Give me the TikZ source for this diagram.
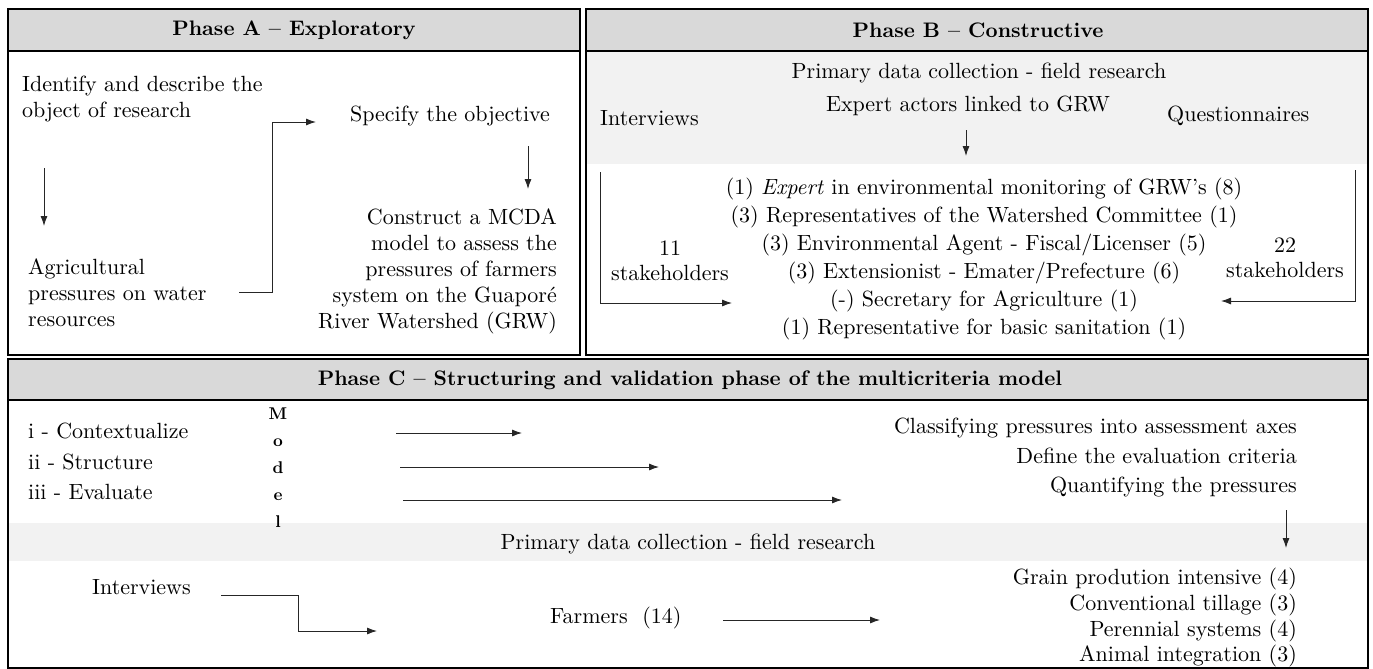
\documentclass[tikz,border=0pt]{standalone}
\usepackage{fontspec}
\setmainfont{lmroman10-regular.otf}[BoldFont=lmroman10-bold.otf, ItalicFont=lmroman10-italic.otf, BoldItalicFont=lmroman10-bolditalic.otf]
\usetikzlibrary{arrows.meta}
\definecolor{headgray}{HTML}{D9D9D9}
\definecolor{bandgray}{HTML}{F2F2F2}
\tikzset{
  frame/.style={draw=black, line width=1.6pt},
  headband/.style={fill=headgray, draw=black, line width=1.6pt},
  band/.style={fill=bandgray, draw=none},
  txt/.style={inner sep=0pt, font=\fontsize{22}{26}\selectfont},
  headtxt/.style={inner sep=0pt, font=\fontsize{21}{24}\selectfont\bfseries},
  arr/.style={draw=black!85, line width=0.9pt, -{Latex[length=10pt,width=7pt]}},
}
\begin{document}
\begin{tikzpicture}[x=1pt,y=-1pt]
\useasboundingbox (0,0) rectangle (1373,669);
% ---------- Phase A ----------
\fill[white] (8,9) rectangle (580,355);
\draw[headband] (8,9) rectangle (580,51);
\draw[frame] (8,9) rectangle (580,355);
\node[headtxt] (hA) at (294,30) {Phase A -- Exploratory};
\node[txt, anchor=north west, align=left] (ident) at (22,76) {Identify and describe the\\object of research};
\node[txt, anchor=north west, align=left] (agri) at (28,259) {Agricultural\\pressures on water\\resources};
\node[txt, anchor=base] (spec) at (450,121) {Specify the objective};
\node[txt, anchor=north east, align=right] (mcda) at (557,209) {Construct a MCDA\\model to assess the\\pressures of farmers\\system on the Guaporé\\River Watershed (GRW)};
\coordinate (a1s) at (44,168); \coordinate (a1e) at (44,226);
\draw[arr] (a1s) -- (a1e);
\coordinate (a2s) at (239,292); \coordinate (a2e) at (316,122);
\draw[arr] (a2s) -- ++(33,0) |- (a2e);
\coordinate (a3s) at (528,146); \coordinate (a3e) at (528,189);
\draw[arr] (a3s) -- (a3e);
% ---------- Phase B ----------
\fill[white] (586,9) rectangle (1368,355);
\fill[band] (586,51) rectangle (1368,164);
\draw[headband] (586,9) rectangle (1368,51);
\draw[frame] (586,9) rectangle (1368,355);
\node[headtxt] (hB) at (978,30) {Phase B -- Constructive};
\node[txt, anchor=base] (primB) at (979,78) {Primary data collection - field research};
\node[txt, anchor=base] (expert) at (968,111) {Expert actors linked to GRW};
\node[txt, anchor=base west] (intB) at (600,125) {Interviews};
\node[txt, anchor=base west] (quest) at (1167,121) {Questionnaires};
\coordinate (b1s) at (966,130); \coordinate (b1e) at (966,156);
\draw[arr] (b1s) -- (b1e);
\node[txt, anchor=north, align=center, font=\fontsize{22}{28}\selectfont] (listB) at (984,178)
 {(1) \textit{Expert} in environmental monitoring of GRW’s (8)\\
  (3) Representatives of the Watershed Committee (1)\\
  (3) Environmental Agent - Fiscal/Licenser (5)\\
  (3) Extensionist - Emater/Prefecture (6)\\
  (-) Secretary for Agriculture (1)\\
  (1) Representative for basic sanitation (1)};
\node[txt, anchor=north, align=center, font=\fontsize{22}{25}\selectfont] (s11) at (670,241) {11\\stakeholders};
\node[txt, anchor=north, align=center, font=\fontsize{22}{25}\selectfont] (s22) at (1285,238) {22\\stakeholders};
\coordinate (lb1) at (600,172); \coordinate (lb2) at (732,303);
\draw[arr] (lb1) |- (lb2);
\coordinate (rb1) at (1355,170); \coordinate (rb2) at (1221,301);
\draw[arr] (rb1) |- (rb2);
% ---------- Phase C ----------
\fill[white] (8,359) rectangle (1368,668);
\fill[band] (8,523) rectangle (1368,561);
\draw[headband] (8,359) rectangle (1368,400);
\draw[frame] (8,359) rectangle (1368,668);
\node[headtxt] (hC) at (690,380) {Phase C -- Structuring and validation phase of the multicriteria model};
\node[txt, anchor=north west, align=left, font=\fontsize{22}{30.5}\selectfont] (steps) at (28,423)
 {i - Contextualize\\ii - Structure\\iii - Evaluate};
\node[inner sep=0pt, anchor=north, align=center, font=\fontsize{17}{27}\selectfont\bfseries] (model) at (278,408)
 {M\\o\\d\\e\\l};
\coordinate (c1s) at (396,433); \coordinate (c1e) at (522,433);
\coordinate (c2s) at (400,467); \coordinate (c2e) at (659,467);
\coordinate (c3s) at (403,500); \coordinate (c3e) at (842,500);
\draw[arr] (c1s) -- (c1e);
\draw[arr] (c2s) -- (c2e);
\draw[arr] (c3s) -- (c3e);
\node[txt, anchor=north east, align=right, font=\fontsize{22}{29.5}\selectfont] (tasks) at (1297,418)
 {Classifying pressures into assessment axes\\Define the evaluation criteria\\Quantifying the pressures};
\coordinate (c4s) at (1286,510); \coordinate (c4e) at (1286,548);
\draw[arr] (c4s) -- (c4e);
\node[txt, anchor=base] (primC) at (688,549) {Primary data collection - field research};
\node[txt, anchor=base west] (intC) at (92,594) {Interviews};
\coordinate (e1) at (221,595); \coordinate (e2) at (377,631);
\draw[arr] (e1) -- ++(77,0) |- (e2);
\node[txt, anchor=base west] (farm) at (550,623) {Farmers~~(14)};
\coordinate (f1) at (723,620); \coordinate (f2) at (880,620);
\draw[arr] (f1) -- (f2);
\node[txt, anchor=north east, align=right, font=\fontsize{22}{25.7}\selectfont] (systems) at (1297,568)
 {Grain prodution intensive (4)\\Conventional tillage (3)\\Perennial systems (4)\\Animal integration (3)};
\end{tikzpicture}
\end{document}
